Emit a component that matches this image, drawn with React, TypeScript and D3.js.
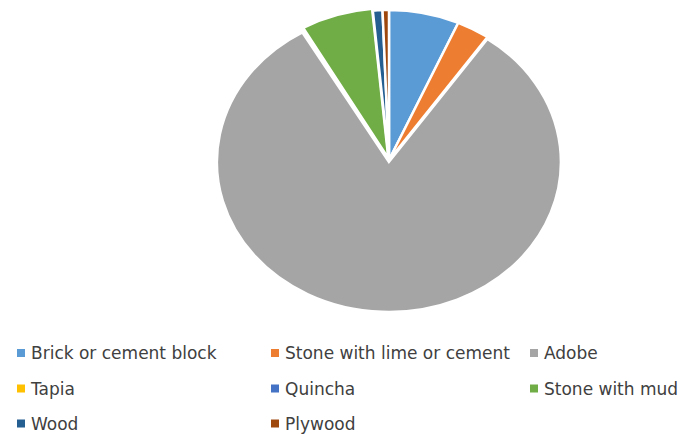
import { useEffect, useRef } from 'react';
import * as d3 from 'd3';

const categories = [
    'Brick or cement block',
    'Stone with lime or cement',
    'Adobe',
    'Tapia',
    'Quincha',
    'Stone with mud',
    'Wood',
    'Plywood',
];
const values = [6.6, 3.1, 81.9, 0.05, 0.1, 6.75, 0.9, 0.6];
const colors = ['#5B9BD5', '#ED7D31', '#A5A5A5', '#FFC000', '#4472C4', '#70AD47', '#255E91', '#9E480E'];
// small explosion (px) per slice
const explode = [0, 0, 2, 0, 0, 2, 0, 0];

interface Slice {
    name: string;
    value: number;
    color: string;
    off: number;
}

const slices: Slice[] = categories.map((name, i) => ({
    name,
    value: values[i],
    color: colors[i],
    off: explode[i],
}));

export default function App() {
    const svgRef = useRef<SVGSVGElement>(null);

    useEffect(() => {
        if (!svgRef.current) return;
        const svg = d3.select(svgRef.current);
        svg.selectAll('*').remove();

        const cx = 389;
        const cy = 160;
        const ry = 150;
        const rx = 172;

        const pie = d3
            .pie<Slice>()
            .value((d) => d.value)
            .sort(null);

        const arc = d3
            .arc<d3.PieArcDatum<Slice>>()
            .innerRadius(0)
            .outerRadius(ry);

        // excel pie is stretched horizontally here
        const g = svg
            .append('g')
            .attr('transform', `translate(${cx},${cy}) scale(${rx / ry},1)`);

        g.selectAll('path')
            .data(pie(slices))
            .enter()
            .append('path')
            .attr('d', arc)
            .attr('fill', (d) => d.data.color)
            .attr('stroke', '#fff')
            .attr('stroke-width', 2.5)
            .attr('vector-effect', 'non-scaling-stroke')
            .attr('transform', (d) => {
                const a = (d.startAngle + d.endAngle) / 2;
                return `translate(${Math.sin(a) * d.data.off},${-Math.cos(a) * d.data.off})`;
            });

        // Legend, 3 columns
        const colX = [17, 271, 530];
        const rowY = [353, 388.5, 423.5];
        const legend = svg.append('g');
        slices.forEach((d, i) => {
            const col = i % 3;
            const row = Math.floor(i / 3);
            const item = legend
                .append('g')
                .attr('transform', `translate(${colX[col]},${rowY[row]})`);
            item.append('rect')
                .attr('x', 0)
                .attr('y', -4)
                .attr('width', 8)
                .attr('height', 8)
                .attr('fill', d.color);
            item.append('text')
                .attr('x', 14)
                .attr('y', 0)
                .attr('dy', '0.36em')
                .attr('fill', '#404040')
                .attr('font-family', 'DejaVu Sans, sans-serif')
                .attr('font-size', '17px')
                .text(d.name);
        });
    }, []);

    return (
        <svg
            ref={svgRef}
            width={681}
            height={434}
            style={{ position: 'absolute', left: 0, top: 0, background: '#fff' }}
        />
    );
}
